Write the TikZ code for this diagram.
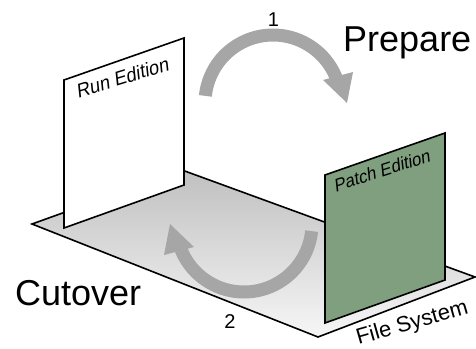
\documentclass[tikz,border=0pt]{standalone}
\usepackage{fontspec}
\setmainfont{Liberation Sans}
\definecolor{panelgreen}{RGB}{127,159,127}
\definecolor{arrowgray}{RGB}{166,166,166}
\definecolor{floortop}{RGB}{192,192,192}
\definecolor{floormid}{RGB}{232,232,232}
\definecolor{floorbottom}{RGB}{246,246,246}
\tikzset{
  outline/.style={draw=black, line width=1.6pt, line join=miter},
  bigtext/.style={font=\fontsize{36}{40}\selectfont, inner sep=0pt},
  steptext/.style={font=\fontsize{20}{24}\selectfont, inner sep=0pt, anchor=base},
  paneltext/.style={inner sep=0pt, anchor=base west},
  cyclearrow/.pic={
    \draw[arrowgray, line width=13pt] plot[domain=186:341, samples=60] ({68*cos(\x)},{68*sin(\x)});
    \fill[arrowgray] (50,-23) -- (80,-31) -- (74,0) -- cycle;
  },
}
\begin{document}
\begin{tikzpicture}[x=1pt,y=-1pt]
\useasboundingbox (0,0) rectangle (476,348);
% file system floor
\coordinate (fl) at (32,224);
\coordinate (ft) at (182,170);
\coordinate (fr) at (475,277);
\coordinate (fb) at (318,337);
\path[outline, top color=floortop, middle color=floormid, bottom color=floorbottom]
  (fl) -- (ft) -- (fr) -- (fb) -- cycle;
% run edition panel
\coordinate (rbl) at (64,228);
\coordinate (rbr) at (184,185);
\coordinate (rtr) at (184,38);
\coordinate (rtl) at (64,80);
\path[outline, fill=white] (rbl) -- (rbr) -- (rtr) -- (rtl) -- cycle;
% patch edition panel
\coordinate (pbl) at (325,323);
\coordinate (pbr) at (445,280);
\coordinate (ptr) at (445,133);
\coordinate (ptl) at (325,175);
\path[outline, fill=panelgreen] (pbl) -- (pbr) -- (ptr) -- (ptl) -- cycle;
% cycle arrows
\pic at (273,103) {cyclearrow};
\pic[rotate=180] at (244,224) {cyclearrow};
% labels
\node[bigtext, anchor=base west] (prepare) at (343,51) {Prepare};
\node[bigtext, anchor=base west] (cutover) at (15,305.5) {Cutover};
\node[steptext] (one) at (273.5,26) {1};
\node[steptext] (two) at (230,328) {2};
% panel captions, sheared to lie in the panel planes
\node[paneltext, cm={0.9563,0.2924,-0.113,1.074,(0,0)}, font=\fontsize{18.5}{22}\selectfont] (run) at (78,98.2) {Run Edition};
\node[paneltext, cm={0.9521,0.3057,-0.113,1.074,(0,0)}, font=\fontsize{17}{20}\selectfont] (patch) at (335.4,192.1) {Patch Edition};
\node[paneltext, rotate=16, font=\fontsize{22}{24}\selectfont] (fs) at (358.5,345) {File System};
\end{tikzpicture}
\end{document}
